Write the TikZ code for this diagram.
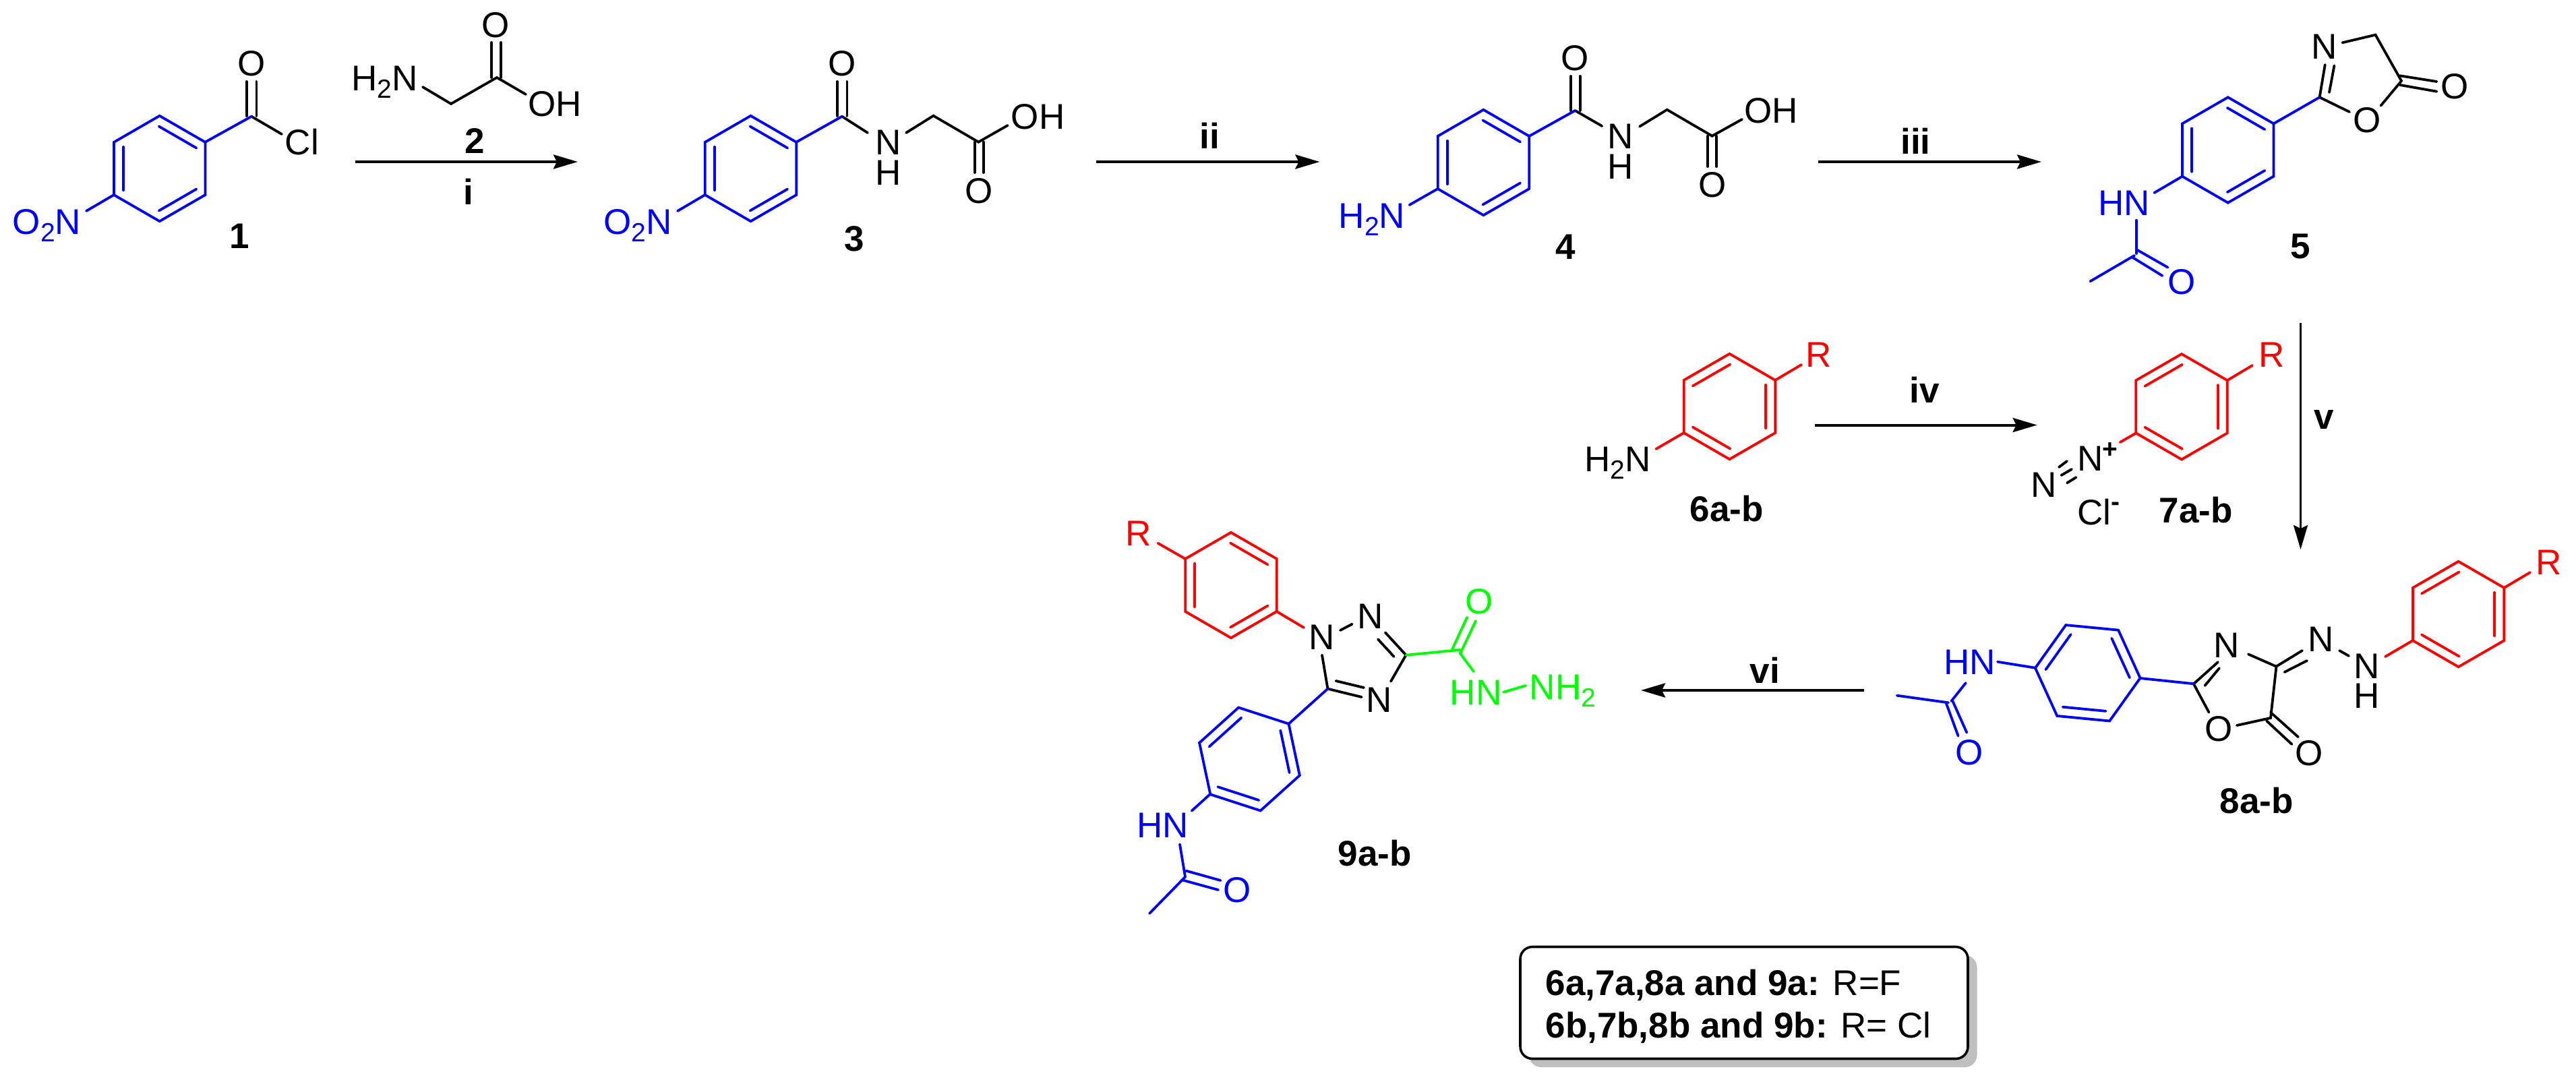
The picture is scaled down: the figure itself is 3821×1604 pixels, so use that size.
\documentclass[tikz,border=0pt]{standalone}
\usepackage{fontspec}
\setmainfont{Liberation Sans}
\usetikzlibrary{arrows.meta}
\newcommand{\subtwo}{\raisebox{-11pt}{\fontsize{39}{39}\selectfont 2}}
\newcommand{\ringr}{78.2}
\newcommand{\innerr}{62.56}
\tikzset{
  bond/.style={line width=3.8pt,line cap=round,line join=miter},
  atom/.style={inner sep=0pt,outer sep=0pt,anchor=base,font=\fontsize{53}{60}\selectfont},
  cpd/.style={atom,font=\fontsize{53}{60}\selectfont\bfseries},
  small/.style={inner sep=0pt,outer sep=0pt,anchor=base,font=\fontsize{39}{45}\selectfont},
  legendline/.style={atom,anchor=base west},
  rxn/.style={line width=4pt,-{Stealth[length=36pt,width=21pt,inset=5pt]}},
  legendbox/.style={draw=black,line width=3.6pt,rounded corners=18pt,fill=white,inner sep=0pt,minimum width=664pt,minimum height=166pt}
}
% centre x, centre y, vertex angle, colour, mid-angle of one double bond
\newcommand{\benz}[5]{%
  \begin{scope}[shift={(#1,#2)},bond,color=#4]
    \draw ({#3}:\ringr)--({#3+60}:\ringr)--({#3+120}:\ringr)--({#3+180}:\ringr)--({#3+240}:\ringr)--({#3+300}:\ringr)--cycle;
    \foreach \mm in {0,120,240}{\draw ({#5+\mm-30.87}:\innerr)--({#5+\mm+30.87}:\innerr);}
  \end{scope}}
\begin{document}
\begin{tikzpicture}[x=1pt,y=-1pt]
\useasboundingbox (0,0) rectangle (3821,1604);
\fill[white] (0,0) rectangle (3821,1604);

%% ---------- arrow end points
\coordinate (a1s) at (527,240);  \coordinate (a1e) at (857,240);
\coordinate (a2s) at (1626,240); \coordinate (a2e) at (1957.5,240);
\coordinate (a3s) at (2697,240); \coordinate (a3e) at (3028,240);
\coordinate (a4s) at (2691.7,630.5); \coordinate (a4e) at (3021.7,630.5);
\coordinate (a5s) at (3412.5,479); \coordinate (a5e) at (3412.5,815);
\coordinate (a6s) at (2765,1024); \coordinate (a6e) at (2434,1024);
\draw[rxn] (a1s)--(a1e);
\draw[rxn] (a2s)--(a2e);
\draw[rxn] (a3s)--(a3e);
\draw[rxn] (a4s)--(a4e);
\draw[rxn,line width=3.4pt] (a5s)--(a5e);
\draw[rxn] (a6s)--(a6e);
\node[cpd] (li)   at (695,303) {i};
\node[cpd] (lii)  at (1794,220) {ii};
\node[cpd] (liii) at (2841.5,228) {iii};
\node[cpd] (liv)  at (2854.4,597.5) {iv};
\node[cpd] (lv)   at (3447,636) {v};
\node[cpd] (lvi)  at (2617.7,1013) {vi};

%% ---------- compound 1
\begin{scope}[bond]
\draw (365.7,172)--(365.7,121) (380.4,172)--(380.4,121);
\draw (373,172.7)--(418,199);
\end{scope}
\benz{236.7}{250}{30}{blue}{60}
\draw[bond,blue] (304.5,210.7)--(373,172.7) (169,289)--(128,313);
\node[atom,blue] (n1a) at (69.5,347) {O\subtwo N};
\node[atom] (n1b) at (373,112.5) {O};
\node[atom] (n1c) at (448,229.5) {Cl};
\node[cpd] (c1) at (355,368) {1};

%% ---------- compound 2
\begin{scope}[bond]
\draw (627,129)--(669,154)--(737,115)--(780,140);
\draw (729,115)--(729,63) (743,115)--(743,63);
\end{scope}
\node[atom] (n2a) at (570.5,134) {H\subtwo N};
\node[atom] (n2b) at (735.5,55.5) {O};
\node[atom] (n2c) at (823,172.5) {OH};
\node[cpd] (c2) at (704,227) {2};

%% ---------- compound 3
\begin{scope}[bond]
\draw (1241.7,172)--(1241.7,121) (1256.4,172)--(1256.4,121);
\draw (1249,172.7)--(1287,197);
\draw (1344,197)--(1384.5,171.7)--(1451.4,210.7)--(1494.7,186);
\draw (1445.7,210.7)--(1445.7,256) (1458.8,210.7)--(1458.8,256);
\end{scope}
\benz{1113.5}{250}{30}{blue}{60}
\draw[bond,blue] (1181.3,210.7)--(1249,172.7) (1045.8,289)--(1005,313);
\node[atom,blue] (n3a) at (946.3,347) {O\subtwo N};
\node[atom] (n3b) at (1249,112.5) {O};
\node[atom] (n3c) at (1317.5,229) {N};
\node[atom] (n3d) at (1317.5,274) {H};
\node[atom] (n3e) at (1539.5,191) {OH};
\node[atom] (n3f) at (1452,301) {O};
\node[cpd] (c3) at (1267,372) {3};

%% ---------- compound 4
\begin{scope}[bond]
\draw (2329.8,164)--(2329.8,113) (2343.7,164)--(2343.7,113);
\draw (2336.3,164)--(2376.3,187);
\draw (2432,187.7)--(2472.7,162.7)--(2539.6,201.7)--(2584,177);
\draw (2533,201.7)--(2533,247) (2546,201.7)--(2546,247);
\end{scope}
\benz{2200.4}{241}{30}{blue}{60}
\draw[bond,blue] (2268.1,202)--(2336.3,164) (2132.7,280)--(2090.6,304);
\node[atom,blue] (n4a) at (2035,338) {H\subtwo N};
\node[atom] (n4b) at (2336.3,104) {O};
\node[atom] (n4c) at (2404,220) {N};
\node[atom] (n4d) at (2404,265) {H};
\node[atom] (n4e) at (2627,182) {OH};
\node[atom] (n4f) at (2539.6,292.5) {O};
\node[cpd] (c4) at (2322.4,384) {4};

%% ---------- compound 5
\begin{scope}[bond]
\draw (3440.6,144.3)--(3448.7,96) (3455,137)--(3462.4,97.3);
\draw (3474.4,63.3)--(3523.5,51.7)--(3562,120)--(3531.5,156.7);
\draw (3559.7,112.3)--(3614.4,121) (3559.7,126)--(3614.4,135.7);
\draw (3440.6,144.3)--(3485,166);
\end{scope}
\benz{3304.7}{222.5}{30}{blue}{60}
\begin{scope}[bond,blue]
\draw (3372.4,183.4)--(3440.6,144.3);
\draw (3237,261.6)--(3195.4,286);
\draw (3168.8,326.7)--(3168.8,376);
\draw (3168.8,370)--(3215.5,396.7);
\draw (3163,381.7)--(3207.4,409);
\draw (3166,379)--(3100.4,417.3);
\end{scope}
\node[atom] (n5a) at (3448,87) {N};
\node[atom] (n5b) at (3510.6,196) {O};
\node[atom] (n5c) at (3641,146) {O};
\node[atom,blue] (n5d) at (3150.5,319) {HN};
\node[atom,blue] (n5e) at (3235.6,436) {O};
\node[cpd] (c5) at (3412.5,383) {5};

%% ---------- compound 6
\benz{2565.4}{603}{30}{red}{0}
\draw[bond,red] (2497.7,642)--(2456.4,666) (2633.1,564)--(2672,541);
\node[atom] (n6a) at (2399.3,699) {H\subtwo N};
\node[atom,red] (n6b) at (2698,544.6) {R};
\node[cpd] (c6) at (2561,773) {6a-b};

%% ---------- compound 7
\benz{3236}{603.3}{30}{red}{0}
\draw[bond,red] (3168.3,642.4)--(3144.7,656) (3303.7,564.2)--(3341,542);
\begin{scope}[bond]
\draw (3054,693)--(3066,684);
\draw (3057.5,705)--(3073,696);
\draw (3066,716.4)--(3079.6,708);
\end{scope}
\node[atom,red] (n7a) at (3370,544.6) {R};
\node[atom] (n7b) at (3101,698) {N};
\node[small,font=\fontsize{39}{45}\selectfont\bfseries] (n7c) at (3130,679) {+};
\node[atom] (n7d) at (3032,737.5) {N};
\node[atom] (n7e) at (3106.5,778) {Cl};
\node[small,font=\fontsize{39}{45}\selectfont\bfseries] (n7f) at (3138,757) {-};
\node[cpd] (c7) at (3257,775) {7a-b};

%% ---------- compound 8
\benz{3646.6}{911}{30}{red}{0}
\draw[bond,red] (3578.9,950.1)--(3538,974) (3714.3,871.9)--(3753,849);
\begin{scope}[bond]
\draw (3470,965)--(3484,973);
\draw (3376.3,988.6)--(3415,965) (3388.5,997)--(3422,980);
\draw (3376.3,988.6)--(3334.9,970.4);
\draw (3254,1014.3)--(3290,982) (3270.5,1017)--(3292,991);
\draw (3253.6,1014)--(3276.5,1056.7);
\draw (3317.9,1076)--(3368,1065)--(3376.5,988.3);
\draw (3368,1056.7)--(3409,1093.3) (3362,1069.3)--(3399.5,1104);
\end{scope}
\benz{3096.7}{998.3}{5.5}{blue}{95.5}
\begin{scope}[bond,blue]
\draw (3174.5,1006)--(3254,1014.3);
\draw (2963,981.7)--(3019,990.7);
\draw (2915.8,1013)--(2894.4,1040);
\draw (2813.8,1031.7)--(2890,1042.3);
\draw (2886.7,1043)--(2904.6,1091.7) (2896.4,1040)--(2917.3,1086.7);
\end{scope}
\node[atom,red] (n8a) at (3781,852.5) {R};
\node[atom] (n8b) at (3511,1006.4) {N};
\node[atom] (n8c) at (3511,1050.7) {H};
\node[atom] (n8d) at (3443,966.8) {N};
\node[atom] (n8e) at (3303,975) {N};
\node[atom,blue] (n8f) at (2921.6,1000.7) {HN};
\node[atom,blue] (n8g) at (2921,1134) {O};
\node[atom] (n8h) at (3290.8,1099.5) {O};
\node[atom] (n8i) at (3425,1135.5) {O};
\node[cpd] (c8) at (3347,1206) {8a-b};

%% ---------- compound 9
\benz{1825.9}{868}{30}{red}{60}
\draw[bond,red] (1758.2,829)--(1717.5,805.7) (1893.6,907)--(1934,931);
\begin{scope}[bond]
\draw (1987.9,935)--(2005.7,925.7);
\draw (2054.8,938.3)--(2085.5,971.7)--(2063,1010.7) (2044,948.3)--(2067.6,974);
\draw (1961,971.7)--(1969.4,1021.7)--(2019.8,1034) (1981.5,1010)--(2023,1020);
\end{scope}
\begin{scope}[bond,color=green]
\draw (2085.5,971.7)--(2165,964);
\draw (2154,963.3)--(2176,915.7) (2166.4,968.3)--(2189,921);
\draw (2165,968)--(2185.6,995.7);
\draw (2230,1026.7)--(2263,1017);
\end{scope}
\benz{1853.4}{1126}{18}{blue}{108}
\begin{scope}[bond,blue]
\draw (1969.4,1021.7)--(1911.5,1073.7);
\draw (1795,1178)--(1767.7,1202.7);
\draw (1750,1252.3)--(1758,1300.7)--(1705,1355);
\draw (1759.4,1291.7)--(1810.5,1306) (1755,1305.7)--(1807,1320);
\end{scope}
\node[atom,red] (n9a) at (1689,809) {R};
\node[atom] (n9b) at (1960.5,963) {N};
\node[atom] (n9c) at (2033,932.7) {N};
\node[atom] (n9d) at (2046,1056.7) {N};
\node[atom,green] (n9e) at (2193.9,910.5) {O};
\node[atom,green] (n9f) at (2189,1045) {HN};
\node[atom,green] (n9g) at (2318,1037) {NH\subtwo};
\node[atom,blue] (n9h) at (1724.7,1242.7) {HN};
\node[atom,blue] (n9i) at (1835,1338) {O};
\node[cpd] (c9) at (2039,1284) {9a-b};

%% ---------- legend
\fill[black!25,rounded corners=18pt] (2268,1417) rectangle (2932.5,1583);
\node[legendbox] (legend) at (2587,1487.5) {};
\node[legendline] (lg1) at (2292.5,1476) {\textbf{6a,7a,8a and 9a:} R=F};
\node[legendline] (lg2) at (2292.5,1539) {\textbf{6b,7b,8b and 9b:} R= Cl};
\end{tikzpicture}
\end{document}
